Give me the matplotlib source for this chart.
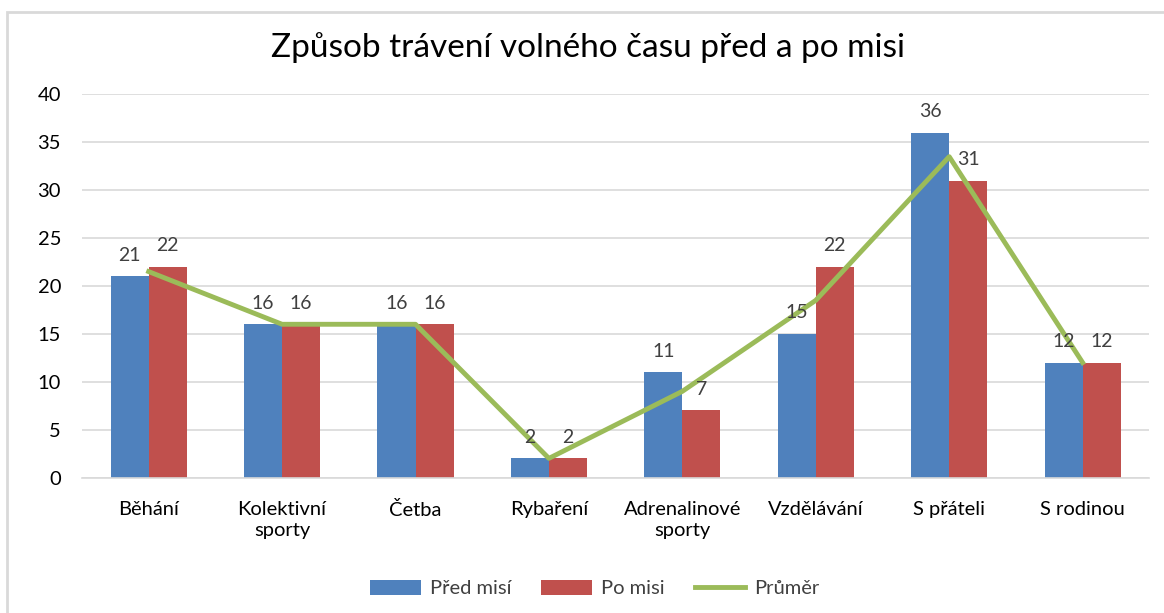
import matplotlib.pyplot as plt
import numpy as np
from matplotlib.patches import Rectangle

plt.rcParams['font.family'] = ['Lato', 'DejaVu Sans']

categories = ['Běhání', 'Kolektivní\nsporty', 'Četba', 'Rybaření',
              'Adrenalinové\nsporty', 'Vzdělávání', 'S přáteli', 'S rodinou']
pred_misi = [21, 16, 16, 2, 11, 15, 36, 12]
po_misi = [22, 16, 16, 2, 7, 22, 31, 12]
prumer = [21.5, 16, 16, 2, 9, 18.5, 33.5, 12]

blue = '#4F81BD'
red = '#C0504D'
green = '#9BBB59'

fig = plt.figure(figsize=(11.64, 6.13), dpi=100)
ax = fig.add_axes([0.0704, 0.221, 0.917, 0.625])

x = np.arange(len(categories))
w = 0.285
b1 = ax.bar(x - w / 2, pred_misi, w, color=blue, label='Před misí')
b2 = ax.bar(x + w / 2, po_misi, w, color=red, label='Po misi')
ln, = ax.plot(x, prumer, color=green, linewidth=3.5, label='Průměr', zorder=3)

ax.bar_label(b1, padding=9, fontsize=14, color='#404040')
ax.bar_label(b2, padding=9, fontsize=14, color='#404040')

ax.set_xlim(-0.5, len(categories) - 0.5)
ax.set_ylim(0, 40)
ax.set_yticks(range(0, 41, 5))
ax.grid(axis='y', color='#D9D9D9', linewidth=1.2)
ax.set_axisbelow(True)
for s in ['top', 'right', 'left']:
    ax.spines[s].set_visible(False)
ax.spines['bottom'].set_color('#D9D9D9')
ax.spines['bottom'].set_linewidth(1.2)
ax.tick_params(axis='both', length=0, labelsize=14.5, colors='black')
ax.tick_params(axis='y', pad=15)
ax.tick_params(axis='x', pad=17)
ax.set_xticks(x)
ax.set_xticklabels(categories, linespacing=1.25)

fig.text(0.505, 0.923, 'Způsob trávení volného času před a po misi',
         ha='center', va='center', fontsize=24, color='black')

fig.legend(handles=[b1, b2, ln], loc='center', bbox_to_anchor=(0.511, 0.04),
           ncol=3, frameon=False, fontsize=14.5, handlelength=2.5,
           handleheight=0.8, columnspacing=1.5, handletextpad=0.45,
           labelcolor='#404040')

fig.patches.append(Rectangle((7 / 1164, -0.1), 1.2, 1.1 - 12 / 613,
                             transform=fig.transFigure, fill=False,
                             edgecolor='#D9D9D9', linewidth=2))

fig.savefig('out.png', dpi=100)
